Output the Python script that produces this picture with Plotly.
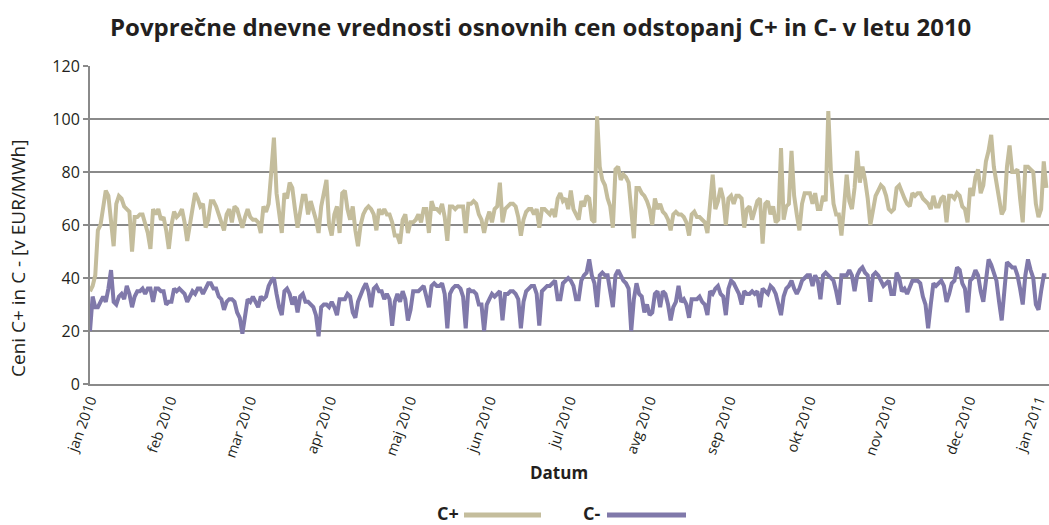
import pandas as pd
import plotly.graph_objects as go

# ---------------- data (daily averages, 2010) ----------------
c_plus = [
    # jan
    35, 37, 41, 58, 60, 67, 73, 71, 61, 52, 68, 71, 70, 67, 66, 65, 50, 63, 63, 64, 64, 61, 57, 51, 66, 64, 66, 62, 63, 58, 51,
    # feb
    60, 65, 63, 64, 66, 61, 54, 60, 66, 72, 70, 67, 68, 59, 62, 69, 69, 67, 64, 61, 58, 64, 66, 61, 67, 66, 62, 59,
    # mar
    63, 66, 63, 62, 62, 61, 57, 67, 65, 68, 80, 93, 72, 63, 57, 72, 70, 76, 74, 66, 59, 65, 71, 71, 64, 69, 66, 62, 57, 67, 72,
    # apr
    77, 60, 56, 64, 67, 57, 72, 73, 66, 62, 67, 58, 52, 60, 64, 66, 67, 66, 64, 58, 66, 64, 66, 64, 64, 61, 56, 56, 53, 62,
    # maj
    64, 57, 61, 61, 62, 64, 61, 66, 66, 57, 69, 66, 66, 65, 68, 63, 54, 67, 67, 66, 67, 67, 67, 57, 68, 68, 69, 68, 64, 62, 57,
    # jun
    62, 65, 61, 66, 67, 76, 61, 66, 67, 68, 68, 67, 63, 56, 62, 65, 66, 66, 64, 66, 59, 66, 66, 65, 64, 66, 63, 70, 72, 69,
    # jul
    70, 66, 73, 66, 64, 62, 69, 67, 71, 70, 62, 61, 101, 82, 77, 75, 70, 67, 59, 81, 82, 77, 79, 78, 76, 67, 55, 74, 74, 72, 71,
    # avg
    69, 66, 60, 70, 66, 68, 65, 64, 62, 58, 64, 65, 64, 64, 63, 61, 56, 64, 65, 63, 63, 62, 61, 57, 68, 79, 66, 69, 74, 70, 60,
    # sep
    70, 71, 68, 71, 71, 70, 59, 66, 67, 62, 66, 69, 70, 53, 68, 69, 64, 67, 61, 62, 89, 62, 67, 68, 88, 71, 64, 58, 68, 72,
    # okt
    72, 72, 68, 72, 66, 66, 71, 69, 103, 80, 68, 64, 64, 56, 67, 79, 69, 66, 74, 88, 76, 82, 77, 70, 60, 66, 71, 73, 75, 74, 71,
    # nov
    66, 65, 66, 74, 75, 72, 70, 68, 67, 72, 71, 72, 72, 70, 69, 68, 66, 71, 67, 67, 70, 71, 61, 71, 71, 70, 72, 71, 67, 66,
    # dec
    61, 74, 71, 78, 81, 72, 75, 84, 88, 94, 82, 76, 70, 64, 66, 82, 90, 80, 80, 81, 70, 61, 82, 82, 81, 80, 68, 63, 66, 84, 74,
]

c_minus = [
    # jan
    20, 33, 29, 29, 31, 33, 31, 36, 43, 31, 30, 33, 34, 32, 37, 34, 29, 33, 35, 35, 36, 34, 36, 36, 31, 36, 36, 35, 35, 30, 31,
    # feb
    31, 36, 35, 36, 35, 34, 31, 33, 35, 34, 36, 36, 34, 36, 38, 38, 36, 36, 33, 32, 28, 31, 32, 32, 31, 27, 25, 19,
    # mar
    25, 32, 31, 33, 31, 29, 33, 32, 33, 37, 39, 40, 34, 29, 26, 35, 36, 34, 30, 33, 27, 33, 34, 31, 31, 30, 29, 26, 18, 29, 30,
    # apr
    30, 29, 31, 29, 26, 32, 32, 32, 34, 33, 27, 25, 31, 34, 36, 38, 35, 29, 36, 37, 35, 35, 32, 34, 32, 22, 31, 34, 31, 35,
    # maj
    32, 24, 28, 35, 35, 35, 36, 37, 33, 29, 37, 38, 37, 37, 38, 34, 21, 34, 36, 37, 37, 36, 33, 21, 36, 35, 35, 34, 30, 30, 20,
    # jun
    30, 32, 34, 33, 34, 35, 24, 34, 34, 35, 35, 34, 32, 21, 31, 35, 36, 37, 37, 34, 22, 35, 36, 37, 37, 38, 39, 32, 32, 38,
    # jul
    39, 40, 39, 37, 32, 32, 39, 41, 42, 47, 41, 38, 29, 41, 42, 41, 41, 35, 29, 41, 43, 41, 39, 38, 36, 20, 32, 38, 34, 33, 27,
    # avg
    30, 26, 27, 34, 35, 29, 35, 34, 30, 24, 29, 31, 37, 31, 32, 30, 25, 32, 32, 32, 33, 31, 30, 26, 35, 34, 36, 37, 34, 33, 26,
    # sep
    36, 39, 38, 36, 34, 30, 35, 34, 34, 35, 34, 35, 29, 36, 35, 34, 37, 36, 34, 30, 26, 33, 36, 37, 39, 36, 34, 36, 39, 40,
    # okt
    41, 41, 37, 41, 39, 32, 41, 42, 41, 40, 39, 35, 30, 41, 41, 41, 43, 41, 35, 41, 43, 44, 42, 41, 31, 41, 42, 41, 39, 37, 38,
    # nov
    39, 34, 34, 42, 40, 35, 36, 34, 37, 39, 39, 39, 38, 33, 30, 21, 30, 38, 37, 38, 39, 37, 31, 34, 38, 39, 44, 43, 38, 36,
    # dec
    27, 39, 40, 43, 41, 35, 31, 39, 47, 45, 42, 39, 31, 24, 35, 46, 45, 44, 44, 41, 36, 30, 41, 47, 43, 40, 30, 28, 35, 41, 41,
]

month_labels = ["jan 2010", "feb 2010", "mar 2010", "apr 2010", "maj 2010", "jun 2010",
                "jul 2010", "avg 2010", "sep 2010", "okt 2010", "nov 2010", "dec 2010", "jan 2011"]
y_ticks = [0, 20, 40, 60, 80, 100, 120]

series_names = ["C+", "C-"]
series_colors = ["#C4BD9C", "#8079AA"]

# ---------------- figure ----------------
start = pd.Timestamp("2010-01-01")
end = pd.Timestamp("2011-01-01")
dates_plus = pd.date_range(start, periods=len(c_plus), freq="D")
dates_minus = pd.date_range(start, periods=len(c_minus), freq="D")
span = (end - start) / 12
tick_vals = [start + span * k for k in range(len(month_labels))]
# pull the last label in slightly so it is not cut off by the page edge
tick_vals[-1] = end - pd.Timedelta(days=4)

W, H = 1049, 525
L, R, T, B = 90, 0, 66, 141
TXT = "#231f20"
GRID = "#8a8a8a"
FONT = "Open Sans"

fig = go.Figure()
fig.add_trace(go.Scatter(x=dates_plus, y=c_plus, mode="lines", name=series_names[0],
                         line=dict(color=series_colors[0], width=4)))
fig.add_trace(go.Scatter(x=dates_minus, y=c_minus, mode="lines", name=series_names[1],
                         line=dict(color=series_colors[1], width=4)))

def px(x):
    return (x - L) / (W - L - R)

def py(y):
    return (H - B - y) / (H - B - T)

fig.update_layout(
    width=W, height=H,
    margin=dict(l=L, r=R, t=T, b=B, pad=0, autoexpand=False),
    paper_bgcolor="white", plot_bgcolor="white",
    showlegend=False,
    font=dict(family=FONT, color=TXT),
)

fig.update_yaxes(
    range=[0, 120], tickvals=y_ticks, automargin=False,
    showgrid=True, gridcolor=GRID, gridwidth=2,
    showline=True, linecolor=GRID, linewidth=2,
    ticks="outside", ticklen=5, tickcolor=GRID, tickwidth=2,
    tickfont=dict(size=16, color=TXT, family=FONT),
    zeroline=False,
)
fig.update_xaxes(
    range=[start, end], tickvals=tick_vals, ticktext=month_labels, automargin=False,
    tickangle=-70, tickfont=dict(size=14.5, color=TXT, family=FONT),
    ticklabeloverflow="allow",
    showgrid=False, showline=True, linecolor=GRID, linewidth=2,
    ticks="", zeroline=False,
)

annotations = [
    dict(text="Povprečne dnevne vrednosti osnovnih cen odstopanj C+ in C- v letu 2010",
         x=px(540), y=py(27), xref="paper", yref="paper", showarrow=False,
         xanchor="center", yanchor="middle",
         font=dict(size=24, color=TXT, family=FONT, weight="bold")),
    dict(text="Ceni C+ in C - [v EUR/MWh]", textangle=-90,
         x=px(18), y=py(259), xref="paper", yref="paper", showarrow=False,
         xanchor="center", yanchor="middle",
         font=dict(size=19, color=TXT, family=FONT)),
    dict(text="Datum", x=px(559), y=py(472), xref="paper", yref="paper", showarrow=False,
         xanchor="center", yanchor="middle",
         font=dict(size=17, color=TXT, family=FONT, weight="bold")),
    dict(text=series_names[0], x=px(461), y=py(513), xref="paper", yref="paper", showarrow=False,
         xanchor="right", yanchor="middle",
         font=dict(size=18, color=TXT, family=FONT, weight="bold")),
    dict(text=series_names[1], x=px(602), y=py(513), xref="paper", yref="paper", showarrow=False,
         xanchor="right", yanchor="middle",
         font=dict(size=18, color=TXT, family=FONT, weight="bold")),
]
fig.update_layout(annotations=annotations)

shapes = [
    dict(type="line", xref="paper", yref="paper", x0=px(464), x1=px(541), y0=py(515), y1=py(515),
         line=dict(color=series_colors[0], width=5)),
    dict(type="line", xref="paper", yref="paper", x0=px(607), x1=px(686), y0=py(515), y1=py(515),
         line=dict(color=series_colors[1], width=5)),
]
fig.update_layout(shapes=shapes)

fig.write_html("out.html", include_plotlyjs=True, full_html=True,
               config={"displayModeBar": False},
               post_script="document.body.style.margin='0';document.body.style.overflow='hidden';")
